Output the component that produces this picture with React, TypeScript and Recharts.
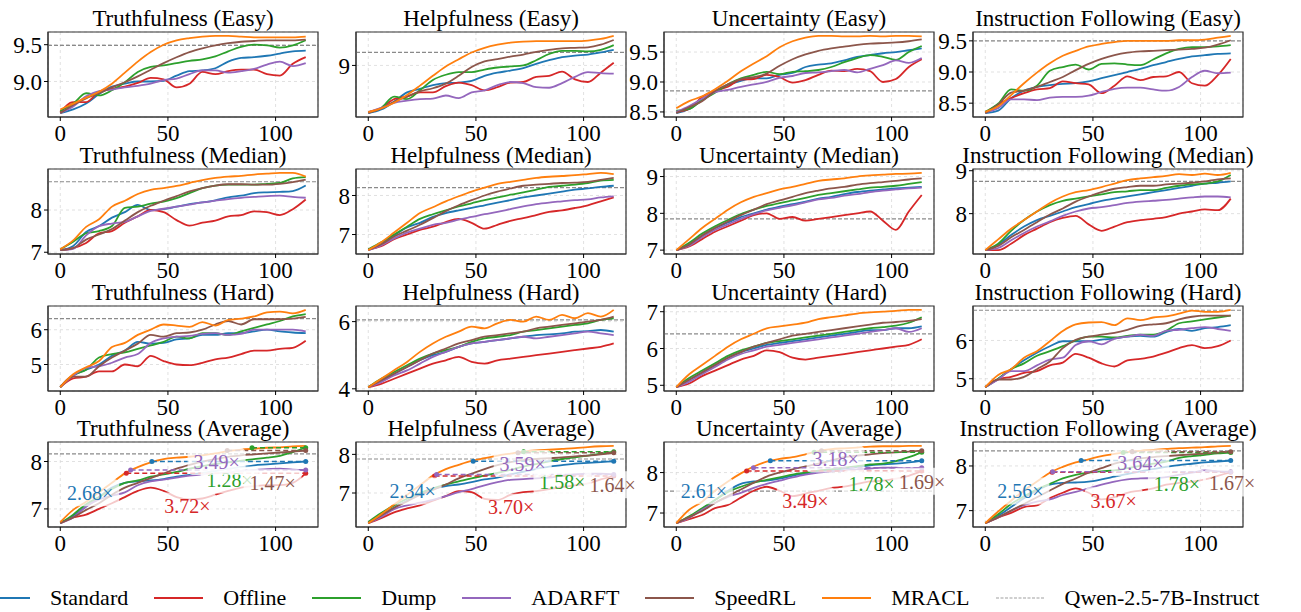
import React from 'react';
import { LineChart, Line, XAxis, YAxis, CartesianGrid, ReferenceLine, ReferenceDot, ReferenceArea } from 'recharts';

const FONT = 'Liberation Serif, Tinos, Times New Roman, Times, Nimbus Roman, DejaVu Serif, serif';

const steps = [0, 6, 12, 18, 24, 30, 36, 42, 48, 54, 60, 66, 72, 78, 84, 90, 96, 102, 108, 114];
const methods = ['Standard', 'Offline', 'Dump', 'ADARFT', 'SpeedRL', 'MRACL'];
const colors = ['#1f77b4', '#d62728', '#2ca02c', '#9467bd', '#8c564b', '#ff7f0e'];
const metrics = ['Truthfulness', 'Helpfulness', 'Uncertainty', 'Instruction Following'];
const levels = ['Easy', 'Median', 'Hard', 'Average'];

// each panel: rows in the order of `methods`
const truthfulnessEasy = [
  [8.57, 8.62, 8.70, 8.83, 8.93, 8.97, 9.00, 9.00, 9.01, 9.08, 9.14, 9.15, 9.18, 9.27, 9.32, 9.33, 9.35, 9.38, 9.41, 9.42],
  [8.58, 8.72, 8.72, 8.86, 8.90, 8.93, 8.98, 9.05, 9.03, 8.92, 8.97, 9.13, 9.10, 9.14, 9.16, 9.16, 9.10, 9.08, 9.24, 9.33],
  [8.60, 8.70, 8.84, 8.81, 8.88, 8.99, 9.13, 9.20, 9.22, 9.25, 9.28, 9.30, 9.34, 9.41, 9.47, 9.50, 9.49, 9.46, 9.49, 9.56],
  [8.57, 8.66, 8.80, 8.87, 8.89, 8.92, 8.94, 8.97, 9.02, 9.04, 9.10, 9.15, 9.15, 9.12, 9.14, 9.17, 9.23, 9.27, 9.21, 9.25],
  [8.57, 8.68, 8.77, 8.84, 8.92, 8.99, 9.07, 9.16, 9.25, 9.33, 9.40, 9.45, 9.49, 9.52, 9.54, 9.55, 9.56, 9.56, 9.56, 9.57],
  [8.62, 8.70, 8.78, 8.86, 8.97, 9.12, 9.27, 9.40, 9.50, 9.56, 9.59, 9.61, 9.62, 9.62, 9.61, 9.60, 9.60, 9.60, 9.60, 9.61],
];
const helpfulnessEasy = [
  [8.08, 8.15, 8.30, 8.48, 8.55, 8.62, 8.66, 8.67, 8.70, 8.80, 8.86, 8.90, 8.95, 9.03, 9.10, 9.16, 9.19, 9.21, 9.25, 9.30],
  [8.10, 8.18, 8.35, 8.40, 8.48, 8.48, 8.60, 8.67, 8.62, 8.52, 8.58, 8.67, 8.68, 8.78, 8.80, 8.88, 8.73, 8.68, 8.86, 9.05],
  [8.10, 8.18, 8.40, 8.35, 8.52, 8.72, 8.82, 8.87, 8.87, 8.92, 8.96, 8.98, 9.00, 9.10, 9.22, 9.28, 9.28, 9.27, 9.30, 9.39],
  [8.10, 8.18, 8.28, 8.32, 8.35, 8.36, 8.42, 8.37, 8.48, 8.52, 8.62, 8.68, 8.66, 8.58, 8.57, 8.66, 8.78, 8.87, 8.85, 8.84],
  [8.08, 8.17, 8.30, 8.40, 8.50, 8.56, 8.65, 8.80, 8.97, 9.08, 9.12, 9.17, 9.21, 9.26, 9.30, 9.33, 9.34, 9.35, 9.40, 9.49],
  [8.10, 8.17, 8.28, 8.43, 8.61, 8.80, 8.98, 9.12, 9.25, 9.34, 9.40, 9.44, 9.46, 9.47, 9.47, 9.47, 9.47, 9.48, 9.51, 9.57],
];
const uncertaintyEasy = [
  [8.48, 8.55, 8.70, 8.84, 8.95, 9.02, 9.06, 9.06, 9.12, 9.15, 9.25, 9.29, 9.31, 9.36, 9.42, 9.45, 9.48, 9.50, 9.53, 9.56],
  [8.50, 8.55, 8.75, 8.85, 8.92, 9.04, 9.05, 9.12, 9.08, 8.99, 9.03, 9.12, 9.19, 9.18, 9.22, 9.18, 9.00, 9.05, 9.25, 9.38],
  [8.52, 8.55, 8.70, 8.82, 8.96, 9.06, 9.12, 9.17, 9.13, 9.17, 9.18, 9.20, 9.25, 9.33, 9.40, 9.45, 9.42, 9.37, 9.50, 9.60],
  [8.50, 8.60, 8.72, 8.83, 8.87, 8.92, 8.96, 9.00, 9.07, 9.10, 9.15, 9.16, 9.18, 9.20, 9.16, 9.22, 9.28, 9.36, 9.32, 9.40],
  [8.48, 8.58, 8.68, 8.85, 8.96, 9.05, 9.08, 9.14, 9.27, 9.38, 9.46, 9.52, 9.56, 9.59, 9.62, 9.64, 9.65, 9.66, 9.68, 9.71],
  [8.56, 8.68, 8.76, 8.88, 9.02, 9.18, 9.31, 9.43, 9.58, 9.68, 9.74, 9.77, 9.77, 9.76, 9.76, 9.77, 9.76, 9.77, 9.77, 9.76],
];
const instructionEasy = [
  [8.34, 8.38, 8.58, 8.70, 8.76, 8.79, 8.81, 8.82, 8.85, 8.90, 8.95, 9.00, 9.05, 9.11, 9.16, 9.21, 9.25, 9.27, 9.29, 9.30],
  [8.35, 8.48, 8.58, 8.66, 8.72, 8.74, 8.85, 8.82, 8.80, 8.66, 8.78, 8.93, 8.87, 8.92, 8.93, 9.00, 8.82, 8.78, 8.95, 9.21],
  [8.36, 8.49, 8.72, 8.70, 8.78, 9.02, 9.08, 9.12, 9.04, 9.13, 9.14, 9.12, 9.11, 9.20, 9.30, 9.37, 9.40, 9.40, 9.41, 9.43],
  [8.35, 8.42, 8.56, 8.56, 8.55, 8.59, 8.60, 8.60, 8.62, 8.68, 8.73, 8.75, 8.75, 8.72, 8.70, 8.76, 8.92, 9.02, 8.98, 8.99],
  [8.34, 8.48, 8.67, 8.70, 8.76, 8.84, 8.92, 9.03, 9.13, 9.21, 9.27, 9.31, 9.33, 9.34, 9.35, 9.36, 9.37, 9.39, 9.44, 9.51],
  [8.36, 8.45, 8.63, 8.82, 8.99, 9.14, 9.26, 9.34, 9.41, 9.45, 9.48, 9.50, 9.50, 9.50, 9.50, 9.51, 9.51, 9.52, 9.55, 9.58],
];

const truthfulnessMedian = [
  [7.05, 7.15, 7.48, 7.62, 7.82, 7.95, 8.12, 8.00, 8.02, 8.08, 8.14, 8.18, 8.23, 8.30, 8.34, 8.40, 8.42, 8.43, 8.45, 8.58],
  [7.05, 7.10, 7.22, 7.45, 7.50, 7.70, 7.85, 8.00, 7.95, 7.76, 7.63, 7.70, 7.75, 7.85, 7.88, 7.97, 7.95, 7.88, 8.02, 8.25],
  [7.07, 7.25, 7.45, 7.50, 7.62, 8.05, 8.08, 8.15, 8.20, 8.28, 8.40, 8.52, 8.58, 8.60, 8.60, 8.60, 8.62, 8.64, 8.75, 8.78],
  [7.05, 7.08, 7.40, 7.62, 7.68, 7.72, 7.85, 7.98, 8.03, 8.08, 8.13, 8.18, 8.22, 8.26, 8.29, 8.31, 8.33, 8.34, 8.31, 8.29],
  [7.05, 7.10, 7.30, 7.42, 7.55, 7.75, 7.95, 8.10, 8.22, 8.33, 8.44, 8.52, 8.58, 8.61, 8.61, 8.60, 8.60, 8.62, 8.66, 8.72],
  [7.07, 7.28, 7.60, 7.78, 8.08, 8.22, 8.38, 8.48, 8.52, 8.57, 8.64, 8.71, 8.76, 8.79, 8.81, 8.84, 8.86, 8.88, 8.88, 8.79],
];
const helpfulnessMedian = [
  [6.60, 6.75, 6.98, 7.18, 7.30, 7.45, 7.55, 7.62, 7.68, 7.75, 7.82, 7.88, 7.95, 8.00, 8.05, 8.10, 8.15, 8.18, 8.22, 8.25],
  [6.62, 6.70, 6.88, 7.00, 7.12, 7.20, 7.32, 7.40, 7.30, 7.15, 7.25, 7.35, 7.42, 7.50, 7.58, 7.62, 7.68, 7.75, 7.85, 7.95],
  [6.62, 6.80, 7.00, 7.20, 7.40, 7.52, 7.62, 7.72, 7.80, 7.88, 7.95, 8.02, 8.08, 8.15, 8.22, 8.25, 8.28, 8.32, 8.38, 8.40],
  [6.60, 6.72, 6.90, 7.05, 7.15, 7.25, 7.30, 7.38, 7.45, 7.52, 7.58, 7.65, 7.72, 7.78, 7.82, 7.85, 7.88, 7.90, 7.95, 7.98],
  [6.60, 6.75, 6.95, 7.10, 7.25, 7.42, 7.60, 7.75, 7.88, 8.00, 8.10, 8.18, 8.25, 8.28, 8.30, 8.32, 8.33, 8.35, 8.40, 8.45],
  [6.60, 6.80, 7.05, 7.30, 7.55, 7.70, 7.85, 7.98, 8.10, 8.20, 8.30, 8.35, 8.40, 8.45, 8.48, 8.50, 8.52, 8.55, 8.58, 8.55],
];
const uncertaintyMedian = [
  [7.00, 7.15, 7.40, 7.60, 7.75, 7.90, 8.00, 8.10, 8.18, 8.25, 8.32, 8.40, 8.45, 8.52, 8.58, 8.62, 8.65, 8.68, 8.70, 8.72],
  [7.00, 7.10, 7.30, 7.50, 7.65, 7.80, 7.95, 8.00, 7.85, 7.90, 7.80, 7.85, 7.90, 7.95, 8.00, 8.05, 7.80, 7.55, 8.05, 8.50],
  [7.00, 7.20, 7.45, 7.65, 7.82, 7.98, 8.10, 8.20, 8.28, 8.35, 8.42, 8.50, 8.55, 8.60, 8.65, 8.70, 8.72, 8.75, 8.80, 8.85],
  [7.00, 7.12, 7.35, 7.55, 7.70, 7.85, 7.98, 8.08, 8.15, 8.22, 8.30, 8.38, 8.42, 8.48, 8.52, 8.58, 8.62, 8.65, 8.68, 8.70],
  [7.00, 7.15, 7.40, 7.60, 7.78, 7.95, 8.10, 8.25, 8.35, 8.45, 8.55, 8.62, 8.68, 8.72, 8.78, 8.82, 8.85, 8.88, 8.92, 8.95],
  [7.00, 7.30, 7.60, 7.85, 8.10, 8.30, 8.45, 8.55, 8.65, 8.72, 8.80, 8.88, 8.92, 8.95, 9.00, 9.03, 9.05, 9.07, 9.08, 9.10],
];
const instructionMedian = [
  [7.15, 7.28, 7.50, 7.70, 7.85, 7.95, 8.05, 8.15, 8.22, 8.30, 8.35, 8.40, 8.45, 8.50, 8.55, 8.60, 8.65, 8.70, 8.72, 8.75],
  [7.15, 7.15, 7.30, 7.50, 7.65, 7.80, 7.90, 7.95, 7.75, 7.60, 7.70, 7.80, 7.85, 7.88, 7.92, 8.00, 8.05, 8.10, 8.08, 8.35],
  [7.15, 7.30, 7.60, 7.85, 8.05, 8.20, 8.30, 8.35, 8.40, 8.45, 8.50, 8.52, 8.55, 8.55, 8.60, 8.65, 8.68, 8.70, 8.75, 8.90],
  [7.15, 7.20, 7.38, 7.55, 7.70, 7.82, 7.95, 8.05, 8.12, 8.15, 8.20, 8.25, 8.28, 8.30, 8.32, 8.35, 8.38, 8.40, 8.40, 8.38],
  [7.15, 7.25, 7.45, 7.62, 7.80, 7.98, 8.12, 8.28, 8.40, 8.50, 8.58, 8.62, 8.65, 8.65, 8.68, 8.70, 8.72, 8.75, 8.80, 8.82],
  [7.15, 7.40, 7.65, 7.85, 8.05, 8.25, 8.40, 8.50, 8.55, 8.62, 8.70, 8.78, 8.82, 8.85, 8.88, 8.92, 8.90, 8.93, 8.90, 8.95],
];

const truthfulnessHard = [
  [4.35, 4.68, 4.85, 5.00, 5.25, 5.40, 5.65, 5.60, 5.62, 5.72, 5.75, 5.85, 5.85, 5.90, 5.90, 5.95, 6.00, 5.95, 5.92, 5.90],
  [4.35, 4.60, 4.65, 4.80, 4.80, 5.00, 4.95, 5.25, 5.10, 5.00, 4.98, 5.05, 5.15, 5.20, 5.30, 5.40, 5.40, 5.45, 5.48, 5.68],
  [4.35, 4.70, 4.85, 5.20, 5.30, 5.35, 5.45, 5.55, 5.65, 5.80, 5.75, 5.90, 5.90, 5.85, 5.95, 6.05, 6.15, 6.25, 6.38, 6.45],
  [4.35, 4.68, 4.90, 4.95, 5.05, 5.20, 5.30, 5.62, 5.75, 5.80, 5.82, 5.88, 5.90, 5.85, 5.88, 6.00, 6.00, 6.00, 6.00, 5.95],
  [4.35, 4.65, 4.65, 4.95, 5.20, 5.40, 5.60, 5.85, 5.80, 5.90, 5.92, 6.00, 6.15, 6.25, 6.15, 6.30, 6.30, 6.30, 6.32, 6.37],
  [4.35, 4.72, 4.92, 5.10, 5.50, 5.62, 5.85, 6.00, 6.15, 6.12, 6.08, 6.22, 6.12, 6.28, 6.32, 6.38, 6.50, 6.52, 6.47, 6.57],
];
const helpfulnessHard = [
  [4.05, 4.25, 4.45, 4.65, 4.85, 5.00, 5.10, 5.25, 5.35, 5.40, 5.45, 5.50, 5.55, 5.60, 5.62, 5.65, 5.70, 5.72, 5.75, 5.70],
  [4.05, 4.15, 4.30, 4.45, 4.60, 4.75, 4.85, 4.95, 4.80, 4.75, 4.85, 4.90, 4.95, 5.00, 5.05, 5.10, 5.15, 5.20, 5.25, 5.35],
  [4.05, 4.30, 4.50, 4.70, 4.90, 5.05, 5.15, 5.25, 5.40, 5.50, 5.55, 5.60, 5.70, 5.75, 5.80, 5.85, 5.90, 5.95, 6.05, 6.10],
  [4.05, 4.20, 4.40, 4.55, 4.75, 4.95, 5.10, 5.25, 5.35, 5.40, 5.45, 5.50, 5.55, 5.50, 5.55, 5.60, 5.65, 5.70, 5.65, 5.60],
  [4.05, 4.25, 4.45, 4.65, 4.85, 5.05, 5.20, 5.35, 5.45, 5.55, 5.60, 5.65, 5.70, 5.80, 5.85, 5.90, 5.95, 6.00, 6.05, 6.15],
  [4.05, 4.30, 4.55, 4.80, 5.10, 5.35, 5.55, 5.70, 5.85, 5.80, 5.95, 6.05, 6.00, 6.15, 6.05, 6.20, 6.10, 6.25, 6.15, 6.35],
];
const uncertaintyHard = [
  [4.95, 5.15, 5.35, 5.55, 5.75, 5.90, 6.00, 6.10, 6.15, 6.20, 6.25, 6.30, 6.35, 6.40, 6.45, 6.50, 6.50, 6.55, 6.55, 6.60],
  [4.95, 5.05, 5.25, 5.40, 5.55, 5.70, 5.80, 5.95, 5.90, 5.75, 5.70, 5.75, 5.80, 5.85, 5.90, 5.95, 6.00, 6.05, 6.10, 6.25],
  [4.95, 5.20, 5.40, 5.60, 5.80, 5.95, 6.05, 6.15, 6.20, 6.25, 6.30, 6.35, 6.40, 6.45, 6.50, 6.55, 6.58, 6.62, 6.70, 6.85],
  [4.95, 5.10, 5.30, 5.50, 5.70, 5.85, 5.95, 6.05, 6.10, 6.15, 6.20, 6.25, 6.30, 6.35, 6.40, 6.45, 6.50, 6.55, 6.45, 6.55],
  [4.95, 5.15, 5.35, 5.55, 5.75, 5.90, 6.05, 6.15, 6.25, 6.35, 6.40, 6.45, 6.50, 6.55, 6.60, 6.65, 6.70, 6.72, 6.75, 6.80],
  [4.95, 5.30, 5.55, 5.80, 6.05, 6.25, 6.40, 6.55, 6.60, 6.65, 6.70, 6.80, 6.85, 6.90, 6.95, 6.98, 7.00, 7.02, 7.05, 7.05],
];
const instructionHard = [
  [4.78, 5.00, 5.25, 5.48, 5.68, 5.85, 5.98, 5.98, 5.98, 6.02, 6.05, 6.10, 6.12, 6.10, 6.22, 6.30, 6.25, 6.32, 6.35, 6.40],
  [4.78, 4.98, 5.05, 5.15, 5.20, 5.35, 5.42, 5.65, 5.55, 5.40, 5.32, 5.48, 5.52, 5.58, 5.68, 5.80, 5.88, 5.80, 5.85, 6.00],
  [4.78, 5.00, 5.25, 5.40, 5.60, 5.72, 5.85, 6.00, 6.10, 6.10, 6.08, 6.12, 6.15, 6.15, 6.25, 6.45, 6.50, 6.55, 6.60, 6.65],
  [4.78, 4.98, 5.20, 5.20, 5.35, 5.50, 5.55, 5.88, 5.98, 5.90, 6.05, 6.10, 6.15, 6.12, 6.25, 6.28, 6.32, 6.35, 6.30, 6.25],
  [4.78, 4.98, 4.98, 5.05, 5.25, 5.45, 5.80, 6.02, 6.10, 6.15, 6.20, 6.28, 6.38, 6.42, 6.45, 6.55, 6.62, 6.65, 6.65, 6.65],
  [4.78, 5.10, 5.25, 5.55, 5.72, 5.98, 6.25, 6.42, 6.47, 6.48, 6.40, 6.58, 6.53, 6.60, 6.63, 6.70, 6.78, 6.75, 6.75, 6.80],
];

const truthfulnessAverage = [
  [6.70, 6.85, 7.05, 7.25, 7.45, 7.55, 7.58, 7.60, 7.63, 7.68, 7.72, 7.76, 7.80, 7.85, 7.88, 7.92, 7.94, 7.96, 7.98, 8.00],
  [6.70, 6.82, 6.88, 7.00, 7.12, 7.25, 7.38, 7.45, 7.38, 7.25, 7.20, 7.22, 7.30, 7.38, 7.45, 7.48, 7.50, 7.50, 7.55, 7.75],
  [6.70, 6.88, 7.10, 7.25, 7.42, 7.55, 7.60, 7.68, 7.73, 7.78, 7.85, 7.90, 7.95, 7.98, 8.02, 8.05, 8.08, 8.12, 8.20, 8.29],
  [6.70, 6.82, 7.05, 7.20, 7.28, 7.35, 7.50, 7.58, 7.62, 7.66, 7.70, 7.73, 7.75, 7.77, 7.80, 7.82, 7.84, 7.85, 7.83, 7.82],
  [6.70, 6.82, 6.98, 7.12, 7.30, 7.45, 7.55, 7.65, 7.75, 7.85, 7.93, 8.00, 8.05, 8.10, 8.13, 8.15, 8.17, 8.19, 8.21, 8.23],
  [6.72, 6.98, 7.15, 7.35, 7.55, 7.75, 7.88, 7.98, 8.05, 8.08, 8.10, 8.13, 8.17, 8.22, 8.25, 8.27, 8.29, 8.30, 8.32, 8.33],
];
const helpfulnessAverage = [
  [6.22, 6.42, 6.62, 6.80, 6.98, 7.10, 7.18, 7.22, 7.28, 7.35, 7.40, 7.48, 7.55, 7.62, 7.68, 7.72, 7.76, 7.78, 7.80, 7.82],
  [6.22, 6.35, 6.50, 6.60, 6.68, 6.80, 6.92, 7.05, 7.02, 6.85, 6.82, 6.95, 7.02, 7.05, 7.10, 7.15, 7.20, 7.25, 7.35, 7.44],
  [6.25, 6.48, 6.68, 6.85, 7.00, 7.12, 7.22, 7.30, 7.38, 7.45, 7.52, 7.60, 7.68, 7.75, 7.82, 7.88, 7.92, 7.97, 8.02, 8.07],
  [6.22, 6.38, 6.58, 6.68, 6.75, 6.82, 6.92, 7.02, 7.10, 7.20, 7.28, 7.34, 7.36, 7.38, 7.40, 7.45, 7.48, 7.50, 7.50, 7.48],
  [6.22, 6.42, 6.62, 6.78, 6.95, 7.08, 7.22, 7.38, 7.50, 7.62, 7.72, 7.80, 7.85, 7.88, 7.90, 7.92, 7.95, 7.97, 8.00, 8.04],
  [6.22, 6.45, 6.70, 6.95, 7.20, 7.45, 7.62, 7.73, 7.83, 7.90, 7.97, 8.02, 8.07, 8.10, 8.12, 8.14, 8.16, 8.19, 8.21, 8.22],
];
const uncertaintyAverage = [
  [6.75, 6.90, 7.10, 7.32, 7.55, 7.72, 7.78, 7.80, 7.85, 7.92, 7.98, 8.02, 8.06, 8.10, 8.14, 8.18, 8.20, 8.22, 8.25, 8.29],
  [6.75, 6.85, 6.95, 7.12, 7.20, 7.38, 7.55, 7.65, 7.55, 7.42, 7.48, 7.55, 7.62, 7.65, 7.72, 7.78, 7.80, 7.85, 7.92, 8.04],
  [6.75, 6.92, 7.12, 7.32, 7.52, 7.65, 7.75, 7.82, 7.88, 7.95, 8.00, 8.05, 8.08, 8.12, 8.16, 8.20, 8.22, 8.28, 8.38, 8.50],
  [6.75, 6.88, 7.08, 7.25, 7.40, 7.50, 7.62, 7.72, 7.80, 7.88, 7.95, 8.00, 8.03, 8.05, 8.08, 8.10, 8.12, 8.12, 8.10, 8.12],
  [6.75, 6.90, 7.05, 7.25, 7.42, 7.58, 7.75, 7.90, 8.00, 8.08, 8.15, 8.22, 8.30, 8.38, 8.42, 8.45, 8.48, 8.50, 8.52, 8.54],
  [6.75, 7.08, 7.28, 7.55, 7.78, 7.98, 8.15, 8.27, 8.34, 8.38, 8.45, 8.53, 8.58, 8.60, 8.62, 8.64, 8.65, 8.65, 8.66, 8.66],
];
const instructionAverage = [
  [6.72, 6.88, 7.08, 7.28, 7.45, 7.58, 7.62, 7.63, 7.65, 7.70, 7.76, 7.82, 7.88, 7.93, 7.98, 8.02, 8.05, 8.08, 8.10, 8.12],
  [6.72, 6.85, 6.95, 7.08, 7.12, 7.28, 7.40, 7.50, 7.40, 7.25, 7.30, 7.40, 7.45, 7.50, 7.58, 7.62, 7.65, 7.70, 7.78, 7.86],
  [6.72, 6.92, 7.15, 7.32, 7.48, 7.60, 7.72, 7.80, 7.85, 7.88, 7.90, 7.95, 8.00, 8.05, 8.10, 8.18, 8.22, 8.25, 8.28, 8.30],
  [6.72, 6.85, 7.00, 7.12, 7.20, 7.25, 7.35, 7.42, 7.50, 7.58, 7.65, 7.70, 7.72, 7.73, 7.75, 7.80, 7.85, 7.90, 7.88, 7.87],
  [6.72, 6.85, 7.00, 7.15, 7.30, 7.45, 7.60, 7.72, 7.85, 7.95, 8.05, 8.12, 8.17, 8.20, 8.22, 8.24, 8.26, 8.28, 8.30, 8.32],
  [6.72, 6.98, 7.22, 7.45, 7.65, 7.85, 7.98, 8.08, 8.15, 8.22, 8.27, 8.31, 8.34, 8.36, 8.38, 8.40, 8.41, 8.42, 8.44, 8.45],
];

// Qwen-2.5-7B-Instruct reference score, per level, per metric
const qwenEasy = [9.49, 9.25, 8.85, 9.5];
const qwenMedian = [8.67, 8.2, 7.85, 8.75];
const qwenHard = [6.32, 6.05, 6.4, 6.79];
const qwenAverage = [8.16, 7.88, 7.54, 8.34];

// MRACL speed-up over Standard, Offline, Dump, ADARFT, SpeedRL (Average row)
const speedupTruthfulness = [2.68, 3.72, 1.28, 3.49, 1.47];
const speedupHelpfulness = [2.34, 3.7, 1.58, 3.59, 1.64];
const speedupUncertainty = [2.61, 3.49, 1.78, 3.18, 1.69];
const speedupInstruction = [2.56, 3.67, 1.78, 3.64, 1.67];

// where the speed-up tags sit, in data units (step, score)
const tagAtTruthfulness = [[13.9, 7.33], [59, 7.05], [78.7, 7.6], [72.6, 7.99], [98.6, 7.54]];
const tagAtHelpfulness = [[20.6, 7.04], [66.3, 6.62], [90.2, 7.27], [71.7, 7.75], [113.5, 7.2]];
const tagAtUncertainty = [[12.8, 7.54], [60, 7.3], [90.7, 7.71], [74, 8.32], [114.2, 7.77]];
const tagAtInstruction = [[16.3, 7.43], [59.6, 7.21], [89, 7.6], [72, 8.06], [114.6, 7.61]];

const tickStep = [[0.5, 1, 0.5, 0.5], [1, 1, 1, 1], [1, 2, 1, 1], [1, 1, 1, 1]];

const colLeft = [48, 356, 664, 973];
const rowTop = [32, 169, 306, 442];
const xDomain = [-5.7, 119.7];

const SpeedTag = ({ cx, cy, text, color }: { cx: number; cy: number; text: string; color: string }) => (
  <g>
    <rect x={cx - 29} y={cy - 14} width={58} height={27} rx={5} fill="#fff" fillOpacity={0.75} />
    <text x={cx} y={cy} dy="0.34em" textAnchor="middle" fontSize={20} fontFamily={FONT} fill={color}>
      {text}
    </text>
  </g>
);

type PanelProps = {
  title: string;
  values: number[][];
  qwen: number;
  step: number;
  left: number;
  top: number;
  speedups?: number[];
  tagAt?: number[][];
};

const Panel = ({ title, values, qwen, step, left, top, speedups, tagAt }: PanelProps) => {
  const data = steps.map((s, i) => {
    const row: Record<string, number> = { step: s };
    methods.forEach((m, j) => {
      row[m] = values[j][i];
    });
    return row;
  });
  const all = values.flat();
  const lo = Math.min(...all);
  const hi = Math.max(...all);
  const pad = (hi - lo) * 0.05;
  const yDomain = [lo - pad, hi + pad];
  const yTicks: number[] = [];
  for (let t = Math.ceil(yDomain[0] / step) * step; t <= yDomain[1]; t += step) yTicks.push(+t.toFixed(2));
  const lastStep = steps[steps.length - 1];
  const tickFont = { fontSize: 23, fill: '#000', fontFamily: FONT };

  return (
    <div style={{ position: 'absolute', left: left - 48, top: top - 5 }}>
      <div
        style={{
          position: 'absolute',
          left: -2,
          top: -20,
          width: 370,
          textAlign: 'center',
          fontFamily: FONT,
          fontSize: 23,
          lineHeight: '24px',
          whiteSpace: 'nowrap',
          color: '#000',
        }}
      >
        {title}
      </div>
      <LineChart width={343} height={125} data={data} margin={{ top: 5, right: 25, bottom: 0, left: 0 }}>
        <CartesianGrid stroke="#d9d9d9" strokeDasharray="3 3" strokeWidth={0.8} />
        <XAxis
          dataKey="step"
          type="number"
          domain={xDomain}
          ticks={[0, 50, 100]}
          allowDataOverflow
          height={35}
          tick={tickFont}
          tickSize={4}
          tickMargin={4}
          axisLine={{ stroke: '#333' }}
          tickLine={{ stroke: '#000' }}
          interval={0}
        />
        <YAxis
          type="number"
          domain={yDomain}
          ticks={yTicks}
          allowDataOverflow
          width={48}
          tick={tickFont}
          tickSize={4}
          tickMargin={2}
          axisLine={{ stroke: '#333' }}
          tickLine={{ stroke: '#000' }}
          interval={0}
          tickFormatter={(v: number) => (step < 1 ? v.toFixed(1) : String(Math.round(v)))}
        />
        <ReferenceLine y={qwen} stroke="#8a8a8a" strokeDasharray="4 2" strokeWidth={1.2} />
        {methods.map((m, j) => (
          <Line
            key={m}
            type="monotone"
            dataKey={m}
            stroke={colors[j]}
            strokeWidth={1.8}
            dot={false}
            isAnimationActive={false}
          />
        ))}
        {speedups &&
          speedups.map((sp, j) => {
            const x0 = lastStep / sp;
            const yf = values[j][values[j].length - 1];
            return (
              <React.Fragment key={'sp' + j}>
                <ReferenceLine
                  segment={[
                    { x: x0, y: yf },
                    { x: lastStep, y: yf },
                  ]}
                  stroke={colors[j]}
                  strokeDasharray="5 3"
                  strokeWidth={1.5}
                />
                <ReferenceDot x={x0} y={yf} r={2.5} fill={colors[j]} stroke="none" />
                <ReferenceDot x={lastStep} y={yf} r={2.5} fill={colors[j]} stroke="none" />
              </React.Fragment>
            );
          })}
        {speedups &&
          tagAt &&
          speedups.map((sp, j) => (
            <ReferenceDot
              key={'tag' + j}
              x={tagAt[j][0]}
              y={tagAt[j][1]}
              r={1}
              ifOverflow="visible"
              shape={(p: any) => <SpeedTag cx={p.cx} cy={p.cy} text={sp.toFixed(2) + '×'} color={colors[j]} />}
            />
          ))}
        <ReferenceArea x1={xDomain[0]} x2={xDomain[1]} y1={yDomain[0]} y2={yDomain[1]} fill="none" stroke="#333" strokeWidth={1.2} />
      </LineChart>
    </div>
  );
};

const Legend = () => (
  <div
    style={{
      position: 'absolute',
      left: -19,
      top: 583,
      height: 30,
      display: 'flex',
      alignItems: 'center',
      fontFamily: FONT,
      fontSize: 22,
      whiteSpace: 'nowrap',
      color: '#000',
    }}
  >
    {[...methods, 'Qwen-2.5-7B-Instruct'].map((name, i) => {
      const isRef = i === methods.length;
      return (
        <div key={name} style={{ display: 'flex', alignItems: 'center', marginRight: 26 }}>
          <svg width={49} height={10}>
            <line
              x1={0}
              x2={49}
              y1={5}
              y2={5}
              stroke={isRef ? '#a0a0a0' : colors[i]}
              strokeWidth={isRef ? 1.2 : 2}
              strokeDasharray={isRef ? '3 1.5' : undefined}
            />
          </svg>
          <span style={{ marginLeft: 20 }}>{name}</span>
        </div>
      );
    })}
  </div>
);

export default function App() {
  const grid = [
    [truthfulnessEasy, helpfulnessEasy, uncertaintyEasy, instructionEasy],
    [truthfulnessMedian, helpfulnessMedian, uncertaintyMedian, instructionMedian],
    [truthfulnessHard, helpfulnessHard, uncertaintyHard, instructionHard],
    [truthfulnessAverage, helpfulnessAverage, uncertaintyAverage, instructionAverage],
  ];
  const qwen = [qwenEasy, qwenMedian, qwenHard, qwenAverage];
  const speedups = [speedupTruthfulness, speedupHelpfulness, speedupUncertainty, speedupInstruction];
  const tags = [tagAtTruthfulness, tagAtHelpfulness, tagAtUncertainty, tagAtInstruction];

  return (
    <div style={{ position: 'absolute', left: 0, top: 0, width: 1301, height: 612, background: '#fff', overflow: 'hidden' }}>
      {levels.map((level, r) =>
        metrics.map((metric, c) => (
          <Panel
            key={level + metric}
            title={`${metric} (${level})`}
            values={grid[r][c]}
            qwen={qwen[r][c]}
            step={tickStep[r][c]}
            left={colLeft[c]}
            top={rowTop[r]}
            speedups={r === 3 ? speedups[c] : undefined}
            tagAt={r === 3 ? tags[c] : undefined}
          />
        ))
      )}
      <Legend />
    </div>
  );
}
